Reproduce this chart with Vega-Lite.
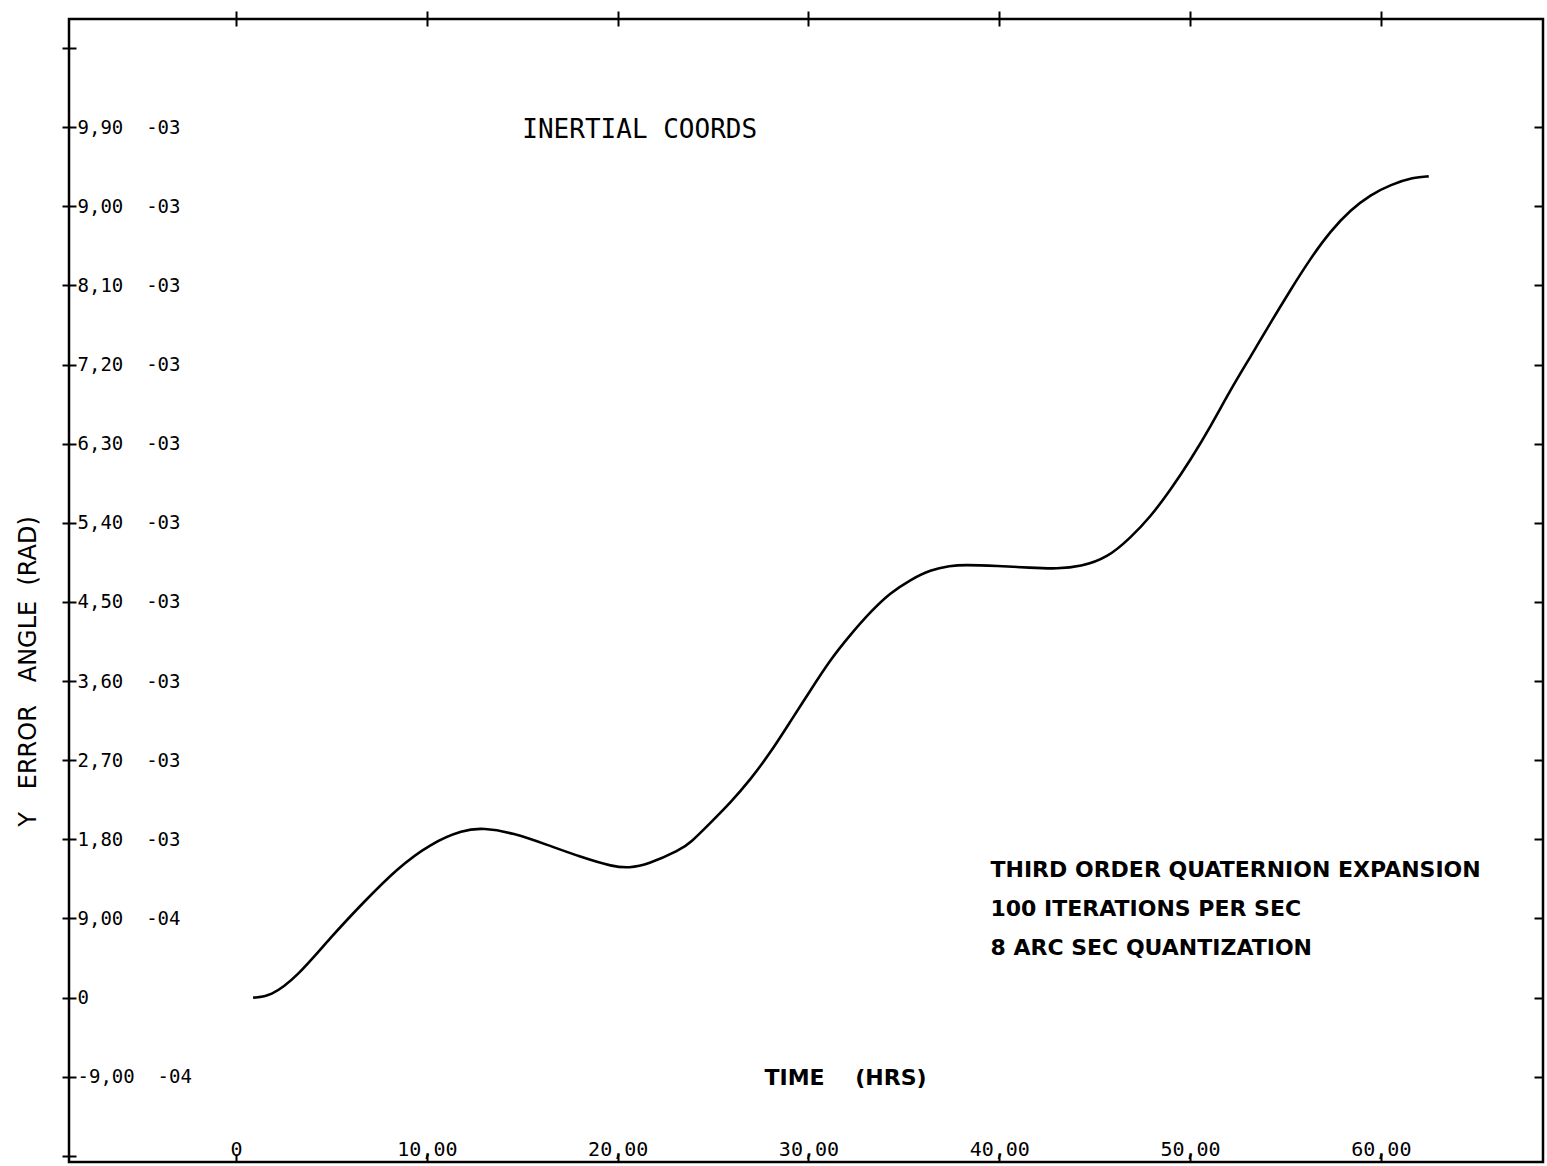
{
  "$schema": "https://vega.github.io/schema/vega-lite/v6.json",
  "width": 1474,
  "height": 1143,
  "autosize": {"type": "none"},
  "padding": {"left": 69, "top": 19, "right": 4, "bottom": 4},
  "background": "white",
  "config": {
    "view": {"stroke": "black", "strokeWidth": 2.5},
    "axis": {"grid": false, "domain": false, "tickColor": "black", "tickWidth": 2, "labelColor": "black", "titleColor": "black"}
  },
  "resolve": {"axis": {"x": "independent", "y": "independent"}},
  "layer": [
    {
      "data": {
        "values": [
          {"time_hrs": 0.89, "y_error_rad": 0.0},
          {"time_hrs": 1.78, "y_error_rad": 0.000008},
          {"time_hrs": 3.2, "y_error_rad": 0.000236},
          {"time_hrs": 4.93, "y_error_rad": 0.00068},
          {"time_hrs": 6.66, "y_error_rad": 0.00108},
          {"time_hrs": 8.44, "y_error_rad": 0.00147},
          {"time_hrs": 10.17, "y_error_rad": 0.00175},
          {"time_hrs": 11.9, "y_error_rad": 0.001908},
          {"time_hrs": 12.95, "y_error_rad": 0.00193},
          {"time_hrs": 14.53, "y_error_rad": 0.001873},
          {"time_hrs": 16.31, "y_error_rad": 0.001737},
          {"time_hrs": 18.04, "y_error_rad": 0.0016},
          {"time_hrs": 19.77, "y_error_rad": 0.001487},
          {"time_hrs": 20.6, "y_error_rad": 0.001475},
          {"time_hrs": 21.55, "y_error_rad": 0.00151},
          {"time_hrs": 23.28, "y_error_rad": 0.00168},
          {"time_hrs": 23.81, "y_error_rad": 0.00176},
          {"time_hrs": 24.86, "y_error_rad": 0.001988},
          {"time_hrs": 25.9, "y_error_rad": 0.002215},
          {"time_hrs": 26.95, "y_error_rad": 0.002477},
          {"time_hrs": 28.0, "y_error_rad": 0.002784},
          {"time_hrs": 29.05, "y_error_rad": 0.00314},
          {"time_hrs": 30.09, "y_error_rad": 0.00349},
          {"time_hrs": 31.14, "y_error_rad": 0.003842},
          {"time_hrs": 32.19, "y_error_rad": 0.004126},
          {"time_hrs": 33.25, "y_error_rad": 0.004388},
          {"time_hrs": 34.29, "y_error_rad": 0.004604},
          {"time_hrs": 35.34, "y_error_rad": 0.004752},
          {"time_hrs": 36.39, "y_error_rad": 0.004866},
          {"time_hrs": 37.44, "y_error_rad": 0.004911},
          {"time_hrs": 38.12, "y_error_rad": 0.004923},
          {"time_hrs": 39.91, "y_error_rad": 0.004911},
          {"time_hrs": 41.64, "y_error_rad": 0.004888},
          {"time_hrs": 43.05, "y_error_rad": 0.004877},
          {"time_hrs": 44.26, "y_error_rad": 0.0049},
          {"time_hrs": 45.67, "y_error_rad": 0.005002},
          {"time_hrs": 46.88, "y_error_rad": 0.00523},
          {"time_hrs": 47.93, "y_error_rad": 0.005469},
          {"time_hrs": 48.98, "y_error_rad": 0.005776},
          {"time_hrs": 50.03, "y_error_rad": 0.006117},
          {"time_hrs": 51.07, "y_error_rad": 0.006493},
          {"time_hrs": 52.12, "y_error_rad": 0.006913},
          {"time_hrs": 53.17, "y_error_rad": 0.007289},
          {"time_hrs": 54.22, "y_error_rad": 0.007676},
          {"time_hrs": 55.27, "y_error_rad": 0.008051},
          {"time_hrs": 56.32, "y_error_rad": 0.00841},
          {"time_hrs": 57.37, "y_error_rad": 0.00872},
          {"time_hrs": 58.42, "y_error_rad": 0.00896},
          {"time_hrs": 59.46, "y_error_rad": 0.00913},
          {"time_hrs": 60.51, "y_error_rad": 0.009246},
          {"time_hrs": 61.72, "y_error_rad": 0.00933},
          {"time_hrs": 62.51, "y_error_rad": 0.00934}
        ]
      },
      "mark": {"type": "line", "color": "black", "strokeWidth": 2.6, "interpolate": "basis"},
      "encoding": {
        "x": {
          "field": "time_hrs", "type": "quantitative",
          "scale": {"domain": [-8.76, 68.5], "nice": false, "zero": false},
          "axis": {
            "orient": "bottom", "values": [0, 10, 20, 30, 40, 50, 60],
            "tickSize": -8, "labelPadding": 1, "labelBaseline": "alphabetic",
            "labelFont": "DejaVu Sans Mono", "labelFontSize": 20, "labelFlush": false, "labelOverlap": false,
            "labelExpr": "datum.value == 0 ? '0' : replace(format(datum.value, '.2f'), '.', ',')",
            "title": "TIME\u00a0\u00a0\u00a0\u00a0(HRS)", "titleFont": "DejaVu Sans", "titleFontWeight": "bold", "titleFontSize": 22,
            "titleX": 776, "titleY": -85, "titleAlign": "center", "titleBaseline": "middle"
          }
        },
        "y": {
          "field": "y_error_rad", "type": "quantitative",
          "scale": {"domain": [-0.00187, 0.01113], "nice": false, "zero": false},
          "axis": {
            "orient": "left",
            "values": [-0.0018, -0.0009, 0, 0.0009, 0.0018, 0.0027, 0.0036, 0.0045, 0.0054, 0.0063, 0.0072, 0.0081, 0.009, 0.0099, 0.0108],
            "offset": -7, "tickSize": 14, "labelPadding": -15, "labelAlign": "left", "labelBaseline": "middle",
            "labelFont": "DejaVu Sans Mono", "labelFontSize": 19, "labelFlush": false, "labelOverlap": false,
            "labelExpr": "['', '-9,00\u00a0\u00a0-04', '0', '9,00\u00a0\u00a0-04', '1,80\u00a0\u00a0-03', '2,70\u00a0\u00a0-03', '3,60\u00a0\u00a0-03', '4,50\u00a0\u00a0-03', '5,40\u00a0\u00a0-03', '6,30\u00a0\u00a0-03', '7,20\u00a0\u00a0-03', '8,10\u00a0\u00a0-03', '9,00\u00a0\u00a0-03', '9,90\u00a0\u00a0-03', ''][round(datum.value / 0.0009) + 2]",
            "title": "Y\u00a0\u00a0\u00a0ERROR\u00a0\u00a0\u00a0ANGLE\u00a0\u00a0(RAD)", "titleFont": "DejaVu Sans", "titleFontWeight": "normal", "titleFontSize": 24,
            "titleX": -48, "titleY": 652, "titleAngle": 270, "titleAlign": "center", "titleBaseline": "middle"
          }
        }
      }
    },
    {
      "data": {"values": [{}]},
      "mark": {"type": "text", "text": "INERTIAL COORDS", "align": "left", "baseline": "middle", "font": "DejaVu Sans Mono", "fontSize": 26, "color": "black"},
      "encoding": {
        "x": {"datum": 15.0, "type": "quantitative",
          "axis": {"orient": "top", "values": [0, 10, 20, 30, 40, 50, 60], "offset": -7, "tickSize": 15, "labels": false, "domain": false, "title": null}},
        "y": {"datum": 0.00987, "type": "quantitative",
          "axis": {"orient": "right", "values": [-0.0009, 0, 0.0009, 0.0018, 0.0027, 0.0036, 0.0045, 0.0054, 0.0063, 0.0072, 0.0081, 0.009, 0.0099], "tickSize": -9, "labels": false, "domain": false, "title": null}}
      }
    },
    {
      "data": {"values": [{}]},
      "mark": {"type": "text", "text": "THIRD ORDER QUATERNION EXPANSION", "align": "left", "baseline": "middle", "font": "DejaVu Sans", "fontWeight": "bold", "fontSize": 22, "color": "black"},
      "encoding": {
        "x": {"datum": 39.54, "type": "quantitative", "axis": null},
        "y": {"datum": 0.001453, "type": "quantitative", "axis": null}
      }
    },
    {
      "data": {"values": [{}]},
      "mark": {"type": "text", "text": "100 ITERATIONS PER SEC", "align": "left", "baseline": "middle", "font": "DejaVu Sans", "fontWeight": "bold", "fontSize": 22, "color": "black"},
      "encoding": {
        "x": {"datum": 39.54, "type": "quantitative", "axis": null},
        "y": {"datum": 0.00101, "type": "quantitative", "axis": null}
      }
    },
    {
      "data": {"values": [{}]},
      "mark": {"type": "text", "text": "8 ARC SEC QUANTIZATION", "align": "left", "baseline": "middle", "font": "DejaVu Sans", "fontWeight": "bold", "fontSize": 22, "color": "black"},
      "encoding": {
        "x": {"datum": 39.54, "type": "quantitative", "axis": null},
        "y": {"datum": 0.000567, "type": "quantitative", "axis": null}
      }
    }
  ]
}
